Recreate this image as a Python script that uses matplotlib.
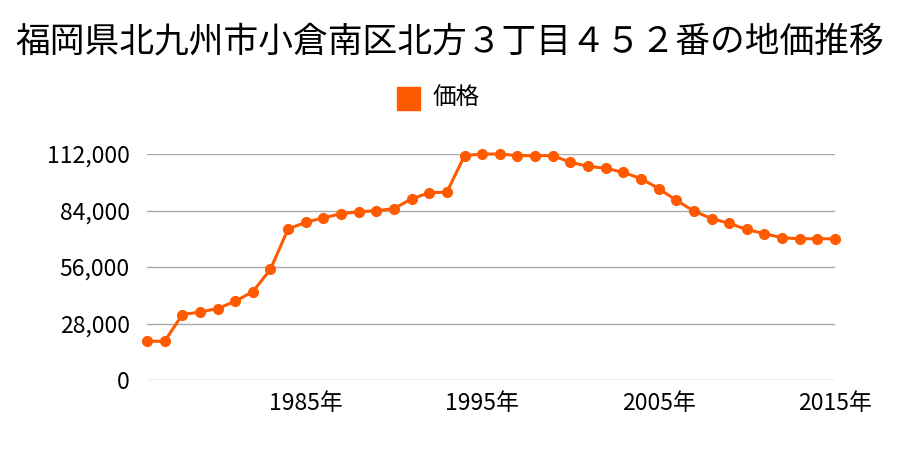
import matplotlib
matplotlib.use("Agg")
import matplotlib.pyplot as plt
from matplotlib.ticker import FuncFormatter

plt.rcParams['font.family'] = ['Noto Sans CJK JP', 'DejaVu Sans']

title = "福岡県北九州市小倉南区北方３丁目４５２番の地価推移"
series_name = "価格"
years = list(range(1976, 2016))
prices = [19200, 19200, 32400, 33700, 35400, 39000, 43800, 54900, 74900, 78100,
          80400, 82400, 83400, 83900, 84900, 89800, 92800, 93100, 111200, 112000,
          112000, 111200, 111200, 111200, 107900, 105900, 104900, 102900, 99800, 94900,
          89100, 83700, 80000, 77600, 74600, 72500, 70500, 70000, 70000, 70000]
yticks = [0, 28000, 56000, 84000, 112000]
xticks = [1985, 1995, 2005, 2015]

color = '#ff5a00'

fig = plt.figure(figsize=(9, 4.5), dpi=100)
ax = fig.add_axes([147/900, (450-380)/450, (835-147)/900, (380-154)/450])

ax.plot(years, prices, color=color, lw=2.2, marker='o', ms=7,
        clip_on=False, zorder=3, label=series_name)

ax.set_xlim(years[0], years[-1])
ax.set_ylim(0, 112000)
ax.set_yticks(yticks)
ax.set_xticks(xticks)
ax.yaxis.set_major_formatter(FuncFormatter(lambda v, p: f"{int(v):,}"))
ax.set_xticklabels([f"{y}年" for y in xticks])
ax.grid(axis='y', color='#aaaaaa', lw=1)
ax.set_axisbelow(True)
for s in ax.spines.values():
    s.set_visible(False)
ax.tick_params(axis='both', length=0, labelsize=16.5, colors='black')
ax.tick_params(axis='y', pad=12.5)
ax.tick_params(axis='x', pad=9)

fig.text(0.5, 1 - 42/450, title, ha='center', va='center', fontsize=25)

# legend
fig.patches.append(plt.Rectangle((397/900, 1 - 110/450), 23/900, 23/450,
                                 transform=fig.transFigure, color=color, figure=fig))
fig.text(433/900, 1 - 98.5/450, series_name, ha='left', va='center', fontsize=17)

fig.savefig("out.png", dpi=100)
